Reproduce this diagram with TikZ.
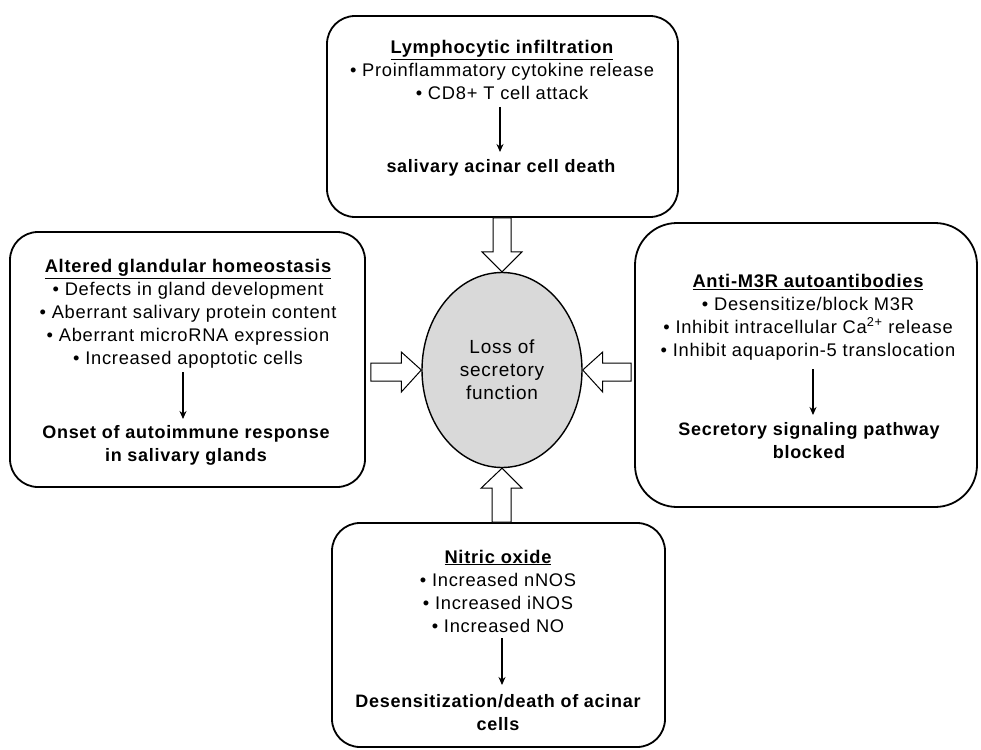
\documentclass[tikz,border=0pt]{standalone}
\usepackage{fontspec}
\setmainfont{Liberation Sans}[LetterSpace=4]
\usetikzlibrary{arrows.meta,calc,shapes.geometric}

\tikzset{
  panel/.style={draw, line width=1.8pt, rounded corners=28pt, fill=white},
  core/.style={ellipse, draw, line width=1.4pt, fill=black!15,
    minimum width=160, minimum height=195, inner sep=0pt},
  items/.style={align=center, inner sep=0pt,
    font=\fontsize{18.3}{23}\selectfont},
  outcome/.style={align=center, inner sep=0pt,
    font=\fontsize{18}{23}\selectfont\bfseries},
  step arrow/.style={line width=1.3pt, -{Stealth[length=8pt,width=7pt]}},
  fat arrow/.style={draw, line width=1pt, fill=white, line join=miter},
}
\newcommand\hd[1]{\textbf{\underline{#1}}}

\begin{document}
\begin{tikzpicture}[x=1pt, y=-1pt]
\useasboundingbox (0,0) rectangle (981,749);

% the four cause panels
\node[panel, minimum width=351, minimum height=201] (top) at (502.5,116.5) {};
\node[panel, minimum width=355, minimum height=255] (left) at (187.5,359.5) {};
\node[panel, rounded corners=42pt, minimum width=342, minimum height=284] (right) at (806,365) {};
\node[panel, minimum width=333, minimum height=224] (bottom) at (498.5,635) {};

% central outcome
\node[core, font=\fontsize{19}{23}\selectfont, align=center] (ell) at (502,370)
  {Loss of\\secretory\\function};

% top panel
\node[items] (toplist) at (502,70)
  {\hd{Lymphocytic infiltration}\\\textbullet\ Proinflammatory cytokine release\\\textbullet\ CD8+ T cell attack};
\node[outcome] (topres) at (501,168) {salivary acinar cell death};
\coordinate (topa) at (500,107);
\coordinate (topb) at (500,152);
\draw[step arrow] (topa) -- (topb);

% left panel
\node[items] (leftlist) at (188,314)
  {\hd{Altered glandular homeostasis}\\\textbullet\ Defects in gland development\\\textbullet\ Aberrant salivary protein content\\\textbullet\ Aberrant microRNA expression\\\textbullet\ Increased apoptotic cells};
\node[outcome] (leftres) at (186,445) {Onset of autoimmune response\\in salivary glands};
\coordinate (lefta) at (183,372);
\coordinate (leftb) at (183,419);
\draw[step arrow] (lefta) -- (leftb);

% right panel
\node[items] (rightlist) at (808,317)
  {\hd{Anti-M3R autoantibodies}\\\textbullet\ Desensitize/block M3R\\\textbullet\ Inhibit intracellular Ca\textsuperscript{2+} release\\\textbullet\ Inhibit aquaporin-5 translocation};
\node[outcome] (rightres) at (809,441) {Secretory signaling pathway\\blocked};
\coordinate (righta) at (813,369);
\coordinate (rightb) at (813,415);
\draw[step arrow] (righta) -- (rightb);

% bottom panel
\node[items] (botlist) at (498,591)
  {\hd{Nitric oxide}\\\textbullet\ Increased nNOS\\\textbullet\ Increased iNOS\\\textbullet\ Increased NO};
\node[outcome] (botres) at (498,713) {Desensitization/death of acinar\\cells};
\coordinate (bota) at (502,638);
\coordinate (botb) at (502,685);
\draw[step arrow] (bota) -- (botb);

% hollow arrows feeding the central outcome: shaft edges, head base corners
\coordinate (nS1) at ($(ell.north)+(-9,-20)$);
\coordinate (nS2) at ($(ell.north)+(9,-20)$);
\draw[fat arrow] (nS1 |- top.south) -- (nS1) -- ($(ell.north)+(-20,-20)$)
  -- (ell.north) -- ($(ell.north)+(20,-20)$) -- (nS2) -- (nS2 |- top.south) -- cycle;

\coordinate (sS1) at ($(ell.south)+(-10,20)$);
\coordinate (sS2) at ($(ell.south)+(9,20)$);
\draw[fat arrow] (sS1 |- bottom.north) -- (sS1) -- ($(ell.south)+(-21,20)$)
  -- (ell.south) -- ($(ell.south)+(20,20)$) -- (sS2) -- (sS2 |- bottom.north) -- cycle;

\coordinate (wS1) at ($(ell.west)+(-20,-7)$);
\coordinate (wS2) at ($(ell.west)+(-20,11)$);
\coordinate (wBase) at ($(left.east)+(5,0)$);
\draw[fat arrow] (wBase |- wS1) -- (wS1) -- ($(ell.west)+(-20,-18)$)
  -- (ell.west) -- ($(ell.west)+(-20,22)$) -- (wS2) -- (wBase |- wS2) -- cycle;

\coordinate (eS1) at ($(ell.east)+(20,-7)$);
\coordinate (eS2) at ($(ell.east)+(20,11)$);
\coordinate (eBase) at ($(right.west)+(-3,0)$);
\draw[fat arrow] (eBase |- eS1) -- (eS1) -- ($(ell.east)+(20,-18)$)
  -- (ell.east) -- ($(ell.east)+(20,22)$) -- (eS2) -- (eBase |- eS2) -- cycle;
\end{tikzpicture}
\end{document}
